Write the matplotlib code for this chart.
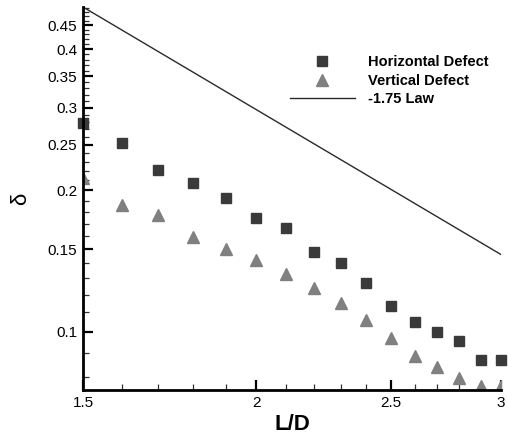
import matplotlib
matplotlib.use("Agg")
import matplotlib.pyplot as plt
from matplotlib.ticker import FixedLocator, FixedFormatter, NullFormatter

plt.rcParams['font.family'] = ['Liberation Sans', 'DejaVu Sans']

# data
ld = [1.5, 1.6, 1.7, 1.8, 1.9, 2.0, 2.1, 2.2, 2.3, 2.4, 2.5, 2.6, 2.7, 2.8, 2.9, 3.0]
horizontal = [0.278, 0.252, 0.221, 0.207, 0.193, 0.175, 0.166, 0.148, 0.140, 0.127,
              0.1135, 0.105, 0.100, 0.0955, 0.087, 0.087]
vertical = [0.213, 0.186, 0.177, 0.159, 0.150, 0.142, 0.133, 0.124, 0.115, 0.106,
            0.097, 0.0886, 0.084, 0.0795, 0.0765, 0.0765]
law_x = [1.5, 3.0]
law_y = [0.492, 0.146]

xticks = [1.5, 2, 2.5, 3]
xticklabels = ['1.5', '2', '2.5', '3']
yticks = [0.1, 0.15, 0.2, 0.25, 0.3, 0.35, 0.4, 0.45]
yticklabels = ['0.1', '0.15', '0.2', '0.25', '0.3', '0.35', '0.4', '0.45']
xminor = [1.6, 1.7, 1.8, 1.9, 2.1, 2.2, 2.3, 2.4, 2.6, 2.7, 2.8, 2.9]
yminor = [0.08, 0.09, 0.11, 0.12, 0.13, 0.14, 0.16, 0.17, 0.18, 0.19, 0.21, 0.22, 0.23,
          0.24, 0.26, 0.27, 0.28, 0.29, 0.31, 0.32, 0.33, 0.34, 0.36, 0.37, 0.38, 0.39,
          0.41, 0.42, 0.43, 0.44, 0.46, 0.47, 0.48, 0.49]

fig = plt.figure(figsize=(5.08, 4.36), dpi=100)
ax = fig.add_axes([83/508, 1 - 390/436, 418/508, 383/436])

ax.plot(ld, horizontal, linestyle='none', marker='s', markersize=7.5,
        color='#3a3a3a', label='Horizontal Defect', clip_on=False, zorder=3)
ax.plot(ld, vertical, linestyle='none', marker='^', markersize=8.5,
        color='#808080', label='Vertical Defect', clip_on=True, zorder=3)
ax.plot(law_x, law_y, color='#2a2a2a', linewidth=1.0, label='-1.75 Law', zorder=2)

ax.set_xscale('log')
ax.set_yscale('log')
ax.set_xlim(1.5, 3.0)
ax.set_ylim(0.0751, 0.492)

ax.xaxis.set_major_locator(FixedLocator(xticks))
ax.xaxis.set_major_formatter(FixedFormatter(xticklabels))
ax.xaxis.set_minor_locator(FixedLocator(xminor))
ax.xaxis.set_minor_formatter(NullFormatter())
ax.yaxis.set_major_locator(FixedLocator(yticks))
ax.yaxis.set_major_formatter(FixedFormatter(yticklabels))
ax.yaxis.set_minor_locator(FixedLocator(yminor))
ax.yaxis.set_minor_formatter(NullFormatter())

ax.tick_params(which='major', direction='in', length=7, width=1.6, labelsize=11,
               colors='black', pad=4)
ax.tick_params(which='minor', direction='in', length=4, width=0.9, colors='#333333')

for s in ['top', 'right']:
    ax.spines[s].set_visible(False)
for s in ['left', 'bottom']:
    ax.spines[s].set_linewidth(2.0)
    ax.spines[s].set_zorder(4)

ax.set_xlabel('L/D', fontsize=16, fontweight='bold', labelpad=3)
ax.set_ylabel('δ', fontsize=16, labelpad=12)

leg = ax.legend(loc='upper left', bbox_to_anchor=(290/508, 1 - 55.5/436),
                bbox_transform=fig.transFigure, frameon=False,
                prop={'weight': 'bold', 'size': 10.5}, handlelength=4.45,
                handletextpad=0.9, labelspacing=0.3, borderpad=0, borderaxespad=0,
                markerscale=1.0)

fig.savefig('out.png', dpi=100)
